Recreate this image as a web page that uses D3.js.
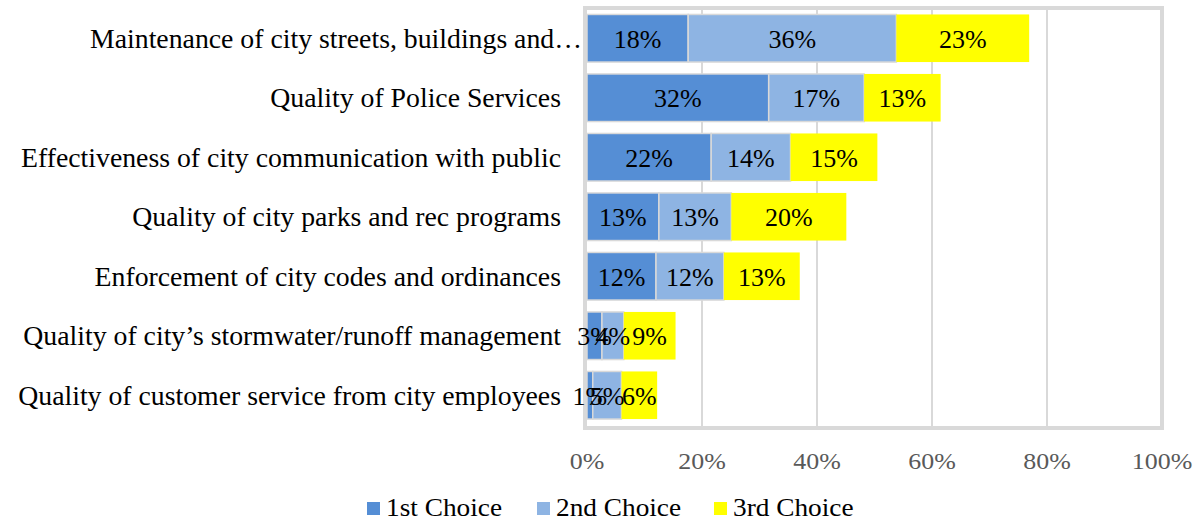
<!DOCTYPE html>
<html><head><meta charset="utf-8">
<script src="https://cdn.jsdelivr.net/npm/d3@7"></script>
<style>
html,body{margin:0;padding:0;background:#fff;}
svg{display:block;}
text{font-family:"Liberation Serif","Times New Roman",serif;}
</style></head>
<body>
<svg id="c" width="1198" height="522"></svg>
<script>
const categories = [
  "Maintenance of city streets, buildings and…",
  "Quality of Police Services",
  "Effectiveness of city communication with public",
  "Quality of city parks and rec programs",
  "Enforcement of city codes and ordinances",
  "Quality of city’s stormwater/runoff management",
  "Quality of customer service from city employees"
];
const seriesNames = ["1st Choice", "2nd Choice", "3rd Choice"];
const firstChoice  = [17.6, 31.6, 21.6, 12.5, 12.0, 2.6, 1.0];
const secondChoice = [36.2, 16.6, 13.8, 12.6, 11.8, 3.8, 5.0];
const thirdChoice  = [23.1, 13.3, 15.1, 20.0, 13.2, 9.0, 6.2];
const xTicks = [0, 20, 40, 60, 80, 100];
const colors = ["#558ed5", "#8eb4e3", "#ffff00"];

const svg = d3.select("#c");
const x = d3.scaleLinear().domain([0, 100]).range([587, 1162]);
const y = d3.scaleBand().domain(categories).range([8.5, 425]).paddingInner(0.2).paddingOuter(0.1);

function widen(sel, f) {
  sel.each(function() {
    const w = this.getComputedTextLength();
    d3.select(this).attr("textLength", w * f).attr("lengthAdjust", "spacingAndGlyphs");
  });
}

// plot area border
svg.append("rect").attr("x", 585).attr("y", 8).attr("width", 1162 - 585).attr("height", 428 - 8)
  .attr("fill", "#fff").attr("stroke", "#d9d9d9").attr("stroke-width", 4);

// gridlines
svg.append("g").selectAll("line").data(xTicks.filter(d => d > 0 && d < 100)).join("line")
  .attr("x1", d => x(d)).attr("x2", d => x(d)).attr("y1", 10).attr("y2", 426)
  .attr("stroke", "#d9d9d9").attr("stroke-width", 2);

const rows = categories.map((c, i) => ({cat: c, v: [firstChoice[i], secondChoice[i], thirdChoice[i]]}));
const segs = [];
rows.forEach(r => { let acc = 0; r.v.forEach((v, s) => { segs.push({cat: r.cat, s, x0: acc, x1: acc + v, v}); acc += v; }); });

svg.append("g").selectAll("rect").data(segs).join("rect")
  .attr("x", d => x(d.x0)).attr("width", d => x(d.x1) - x(d.x0))
  .attr("y", d => y(d.cat)).attr("height", y.bandwidth())
  .attr("fill", d => colors[d.s])
  .attr("stroke", d => d.s < 2 ? "#d9d9d9" : "none").attr("stroke-width", 1.5);

svg.append("g").selectAll("text").data(segs).join("text")
  .attr("x", d => (x(d.x0) + x(d.x1)) / 2).attr("y", d => y(d.cat) + y.bandwidth() / 2)
  .attr("dy", "0.36em").attr("text-anchor", "middle")
  .attr("font-size", 26).attr("fill", "#000")
  .text(d => Math.round(d.v) + "%");

// category labels
const cl = svg.append("g").selectAll("text").data(categories).join("text")
  .attr("x", (d, i) => i === 0 ? 582 : 561)
  .attr("y", d => y(d) + y.bandwidth() / 2).attr("dy", "0.36em")
  .attr("text-anchor", "end").attr("font-size", 27).attr("fill", "#000")
  .text(d => d);
let refW = 0;
cl.each(function(d) { if (d.startsWith("Effectiveness")) refW = this.getComputedTextLength(); });
widen(cl, 540 / refW);

// x tick labels
const tl = svg.append("g").selectAll("text").data(xTicks).join("text")
  .attr("x", d => x(d)).attr("y", 469).attr("text-anchor", "middle")
  .attr("font-size", 24).attr("fill", "#595959")
  .text(d => d + "%");
widen(tl, 1.08);

// legend
const legX = [367, 537, 714];
const lg = svg.append("g").selectAll("g").data(seriesNames).join("g")
  .attr("transform", (d, i) => `translate(${legX[i]},507)`);
lg.append("rect").attr("x", 0).attr("y", -5).attr("width", 13).attr("height", 13)
  .attr("fill", (d, i) => colors[i]);
const lt = lg.append("text").attr("x", 19).attr("dy", "0.36em").attr("font-size", 26).attr("fill", "#000").text(d => d);
widen(lt, 1.05);
</script>
</body></html>
